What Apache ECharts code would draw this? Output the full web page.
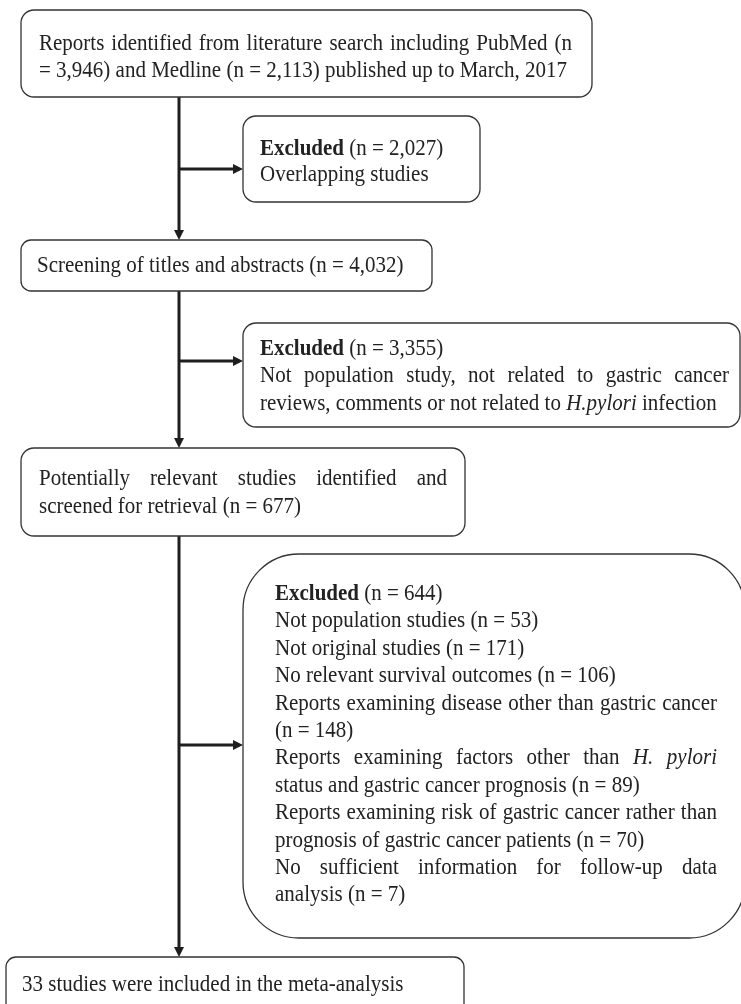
<!DOCTYPE html>
<html><head><meta charset="utf-8">
<script src="https://cdn.jsdelivr.net/npm/echarts@6/dist/echarts.min.js"></script>
<style>html,body{margin:0;padding:0;background:#fff}#c{width:741px;height:1004px}</style>
</head><body><div id="c"></div>
<script>
// ---- Data (flow counts and box texts) ----
const searchCounts = { pubmed: '3,946', medline: '2,113' };
const screenedCount = '4,032';
const relevantCount = '677';
const includedCount = '33';
const excludedCounts = ['2,027', '3,355', '644'];
const reasonLabels644 = ['Not population studies', 'Not original studies', 'No relevant survival outcomes',
  'Reports examining disease other than gastric cancer', 'Reports examining factors other than _H. pylori_ status and gastric cancer prognosis',
  'Reports examining risk of gastric cancer rather than prognosis of gastric cancer patients',
  'No sufficient information for follow-up data analysis'];
const reasonCounts644 = ['53', '171', '106', '148', '89', '70', '7'];

// lines of each box (1 = justified line)
const box1Lines = [['Reports identified from literature search including PubMed (n', 1],
  ['= ' + searchCounts.pubmed + ') and Medline (n = ' + searchCounts.medline + ') published up to March, 2017', 0]];
const box2Lines = [['**Excluded** (n = ' + excludedCounts[0] + ')', 0], ['Overlapping studies', 0]];
const box3Lines = [['Screening of titles and abstracts (n = ' + screenedCount + ')', 0]];
const box4Lines = [['**Excluded** (n = ' + excludedCounts[1] + ')', 0],
  ['Not population study, not related to gastric cancer', 1],
  ['reviews, comments or not related to _H.pylori_ infection', 0]];
const box5Lines = [['Potentially relevant studies identified and', 1], ['screened for retrieval (n = ' + relevantCount + ')', 0]];
const box6Lines = [['**Excluded** (n = ' + excludedCounts[2] + ')', 0],
  [reasonLabels644[0] + ' (n = ' + reasonCounts644[0] + ')', 0],
  [reasonLabels644[1] + ' (n = ' + reasonCounts644[1] + ')', 0],
  [reasonLabels644[2] + ' (n = ' + reasonCounts644[2] + ')', 0],
  [reasonLabels644[3], 1], ['(n = ' + reasonCounts644[3] + ')', 0],
  ['Reports examining factors other than _H. pylori_', 1], ['status and gastric cancer prognosis (n = ' + reasonCounts644[4] + ')', 0],
  ['Reports examining risk of gastric cancer rather than', 1], ['prognosis of gastric cancer patients (n = ' + reasonCounts644[5] + ')', 0],
  ['No sufficient information for follow-up data', 1], ['analysis (n = ' + reasonCounts644[6] + ')', 0]];
const box7Lines = [[includedCount + ' studies were included in the meta-analysis', 0]];

// ---- Layout helpers ----
const FS = 21, SY = 1.08, FAM = '"Liberation Serif","Times New Roman",serif';
const TXT = '#222', LINE = '#1e1e1e', BORDER = '#333';
const mctx = document.createElement('canvas').getContext('2d');
function fontOf(b, i) { return (i ? 'italic ' : '') + (b ? 'bold ' : '') + FS + 'px ' + FAM; }
function measure(t, b, i) { mctx.font = fontOf(b, i); return mctx.measureText(t).width; }
function tokens(s) {
  const parts = s.split(/(\*\*[^*]+\*\*|_[^_]+_)/).filter(p => p.length);
  const out = [];
  parts.forEach(p => {
    let b = false, i = false, t = p;
    if (p.startsWith('**')) { b = true; t = p.slice(2, -2); }
    else if (p.startsWith('_')) { i = true; t = p.slice(1, -1); }
    t.split(' ').filter(w => w.length).forEach(w => out.push({ w, b, i }));
  });
  return out;
}
const elements = [];
function textBlock(lines, x0, x1, yStart, step) {
  lines.forEach((ln, k) => {
    const toks = tokens(ln[0]);
    toks.forEach(t => t.width = measure(t.w, t.b, t.i));
    const total = toks.reduce((a, t) => a + t.width, 0);
    let gap = measure(' ', false, false);
    if (ln[1] && toks.length > 1) gap = (x1 - x0 - total) / (toks.length - 1);
    let x = x0;
    const y = yStart + k * step;
    toks.forEach(t => {
      elements.push({ type: 'text', x: x, y: y, scaleY: SY, silent: true,
        style: { text: t.w, x: 0, y: 0, font: fontOf(t.b, t.i), fill: TXT, textAlign: 'left', textVerticalAlign: 'middle' } });
      x += t.width + gap;
    });
  });
}
function box(x, y, w, h, r, lw) {
  elements.push({ type: 'rect', shape: { x, y, width: w, height: h, r }, style: { fill: '#fff', stroke: BORDER, lineWidth: lw || 1.3 } });
}
function vArrow(x, y0, y1) {
  elements.push({ type: 'line', shape: { x1: x, y1: y0, x2: x, y2: y1 - 9 }, style: { stroke: LINE, lineWidth: 3 } });
  elements.push({ type: 'polygon', shape: { points: [[x - 5, y1 - 10], [x + 5, y1 - 10], [x, y1]] }, style: { fill: LINE } });
}
function hArrow(x0, x1, y) {
  elements.push({ type: 'line', shape: { x1: x0, y1: y, x2: x1 - 9, y2: y }, style: { stroke: LINE, lineWidth: 3 } });
  elements.push({ type: 'polygon', shape: { points: [[x1 - 10, y - 5], [x1 - 10, y + 5], [x1, y]] }, style: { fill: LINE } });
}

const TX = 179;
// trunk & arrows
vArrow(TX, 97, 240);
vArrow(TX, 291, 448);
vArrow(TX, 536, 957);
hArrow(TX, 243, 169);
hArrow(TX, 243, 361);
hArrow(TX, 243, 745);

// boxes
box(21, 10, 571, 87, 13);
textBlock(box1Lines, 39, 572, 44, 27);
box(243, 116, 237, 86, 13);
textBlock(box2Lines, 260, 470, 149, 26);
box(21, 240, 411, 51, 10);
textBlock(box3Lines, 37, 420, 266, 27);
box(243, 323, 497, 104, 13);
textBlock(box4Lines, 260, 729, 349, 27.5);
box(21, 448, 444, 88, 13);
textBlock(box5Lines, 39, 447, 479, 28);
box(243, 554, 502, 384, 56, 1.3);
textBlock(box6Lines, 275, 717, 594, 27.4);
box(6, 957, 458, 60, 10);
textBlock(box7Lines, 22, 450, 985, 27);

const chart = echarts.init(document.getElementById('c'), null, { renderer: 'canvas' });
chart.setOption({ backgroundColor: '#fff', animation: false, graphic: { elements } });
</script></body></html>
